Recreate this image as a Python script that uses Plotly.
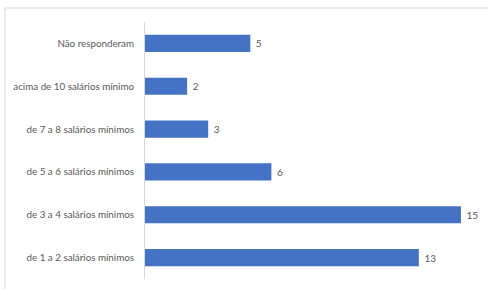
import plotly.graph_objects as go

categories = [
    "de 1 a 2 salários mínimos",
    "de 3 a 4 salários mínimos",
    "de 5 a 6 salários mínimos",
    "de 7 a 8 salários mínimos",
    "acima de 10 salários mínimo",
    "Não responderam",
]
values = [13, 15, 6, 3, 2, 5]

fig = go.Figure(go.Bar(
    x=values,
    y=categories,
    orientation="h",
    marker=dict(color="#4472C4", line=dict(width=0)),
    text=[" " + str(v) for v in values],
    textposition="outside",
    textfont=dict(family="Lato", size=10, color="#595959"),
    cliponaxis=False,
    hoverinfo="skip",
))

W, H = 488, 289
L, R, T, B = 145, 6, 22, 10
pw, ph = W - L - R, H - T - B

def px(x):
    return (x - L) / pw

def py(y):
    return (H - B - y) / ph

fig.update_layout(
    width=W, height=H,
    margin=dict(l=L, r=R, t=T, b=B),
    paper_bgcolor="white",
    plot_bgcolor="white",
    bargap=0.6,
    showlegend=False,
    font=dict(family="Lato", size=10, color="#595959"),
    xaxis=dict(range=[0, 16], visible=False, fixedrange=True),
    yaxis=dict(
        showline=True, linecolor="#d9d9d9", linewidth=1,
        ticks="", showgrid=False, ticklabelstandoff=8, fixedrange=True,
        tickfont=dict(family="Lato", size=9.8, color="#595959"),
    ),
    shapes=[
        dict(type="line", xref="paper", yref="paper",
             x0=px(5), x1=px(490), y0=py(8), y1=py(8),
             line=dict(color="#d9d9d9", width=1)),
        dict(type="line", xref="paper", yref="paper",
             x0=px(5), x1=px(5), y0=py(8), y1=py(292),
             line=dict(color="#d9d9d9", width=1)),
    ],
)

fig.write_html(
    "out.html",
    config={"displayModeBar": False},
    post_script="document.body.style.margin='0';document.body.style.overflow='hidden';",
)
